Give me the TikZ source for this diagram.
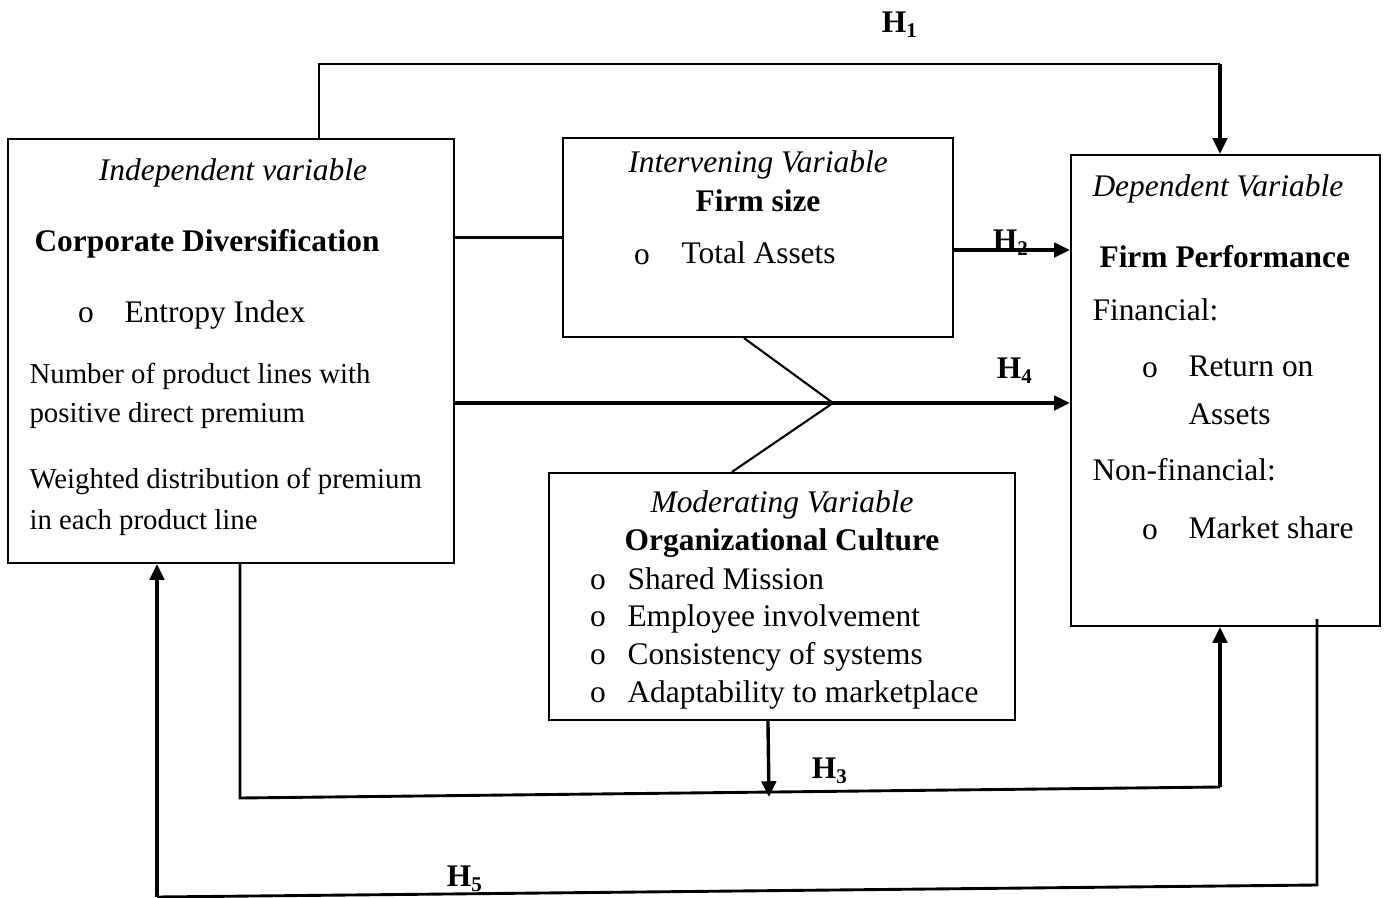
\documentclass[tikz,border=0pt]{standalone}
\usepackage{fontspec}
\setmainfont{Liberation Serif}
\usetikzlibrary{arrows.meta,positioning,fit,calc}

\begin{document}
\begin{tikzpicture}[
  x=0.01341cm, y=-0.01341cm,
  >={Triangle[length=6pt,width=5.5pt]},
  txt/.style={inner sep=0pt, text height=1.5ex, text depth=0.25ex, yshift=-0.04cm,
    font=\fontsize{12pt}{14pt}\selectfont},
  hd/.style={txt, font=\fontsize{12pt}{14pt}\selectfont\itshape},
  ttl/.style={txt, font=\fontsize{12pt}{14pt}\selectfont\bfseries},
  sml/.style={txt, font=\fontsize{11pt}{13pt}\selectfont},
  hyp/.style={txt, font=\fontsize{12pt}{14pt}\selectfont\bfseries},
  varbox/.style={draw, line width=0.8pt, inner sep=0pt},
  link/.style={line width=0.8pt},
  arr/.style={->, line width=1.3pt},
]
\useasboundingbox (0,0) rectangle (1388,898);

% Boxes
\node[varbox, fit={(8,139) (454,563)}] (indep) {};
\node[varbox, fit={(563,138) (953,337)}] (interv) {};
\node[varbox, fit={(1071,155) (1380,626)}] (dep) {};
\node[varbox, fit={(549,473) (1015,720)}] (moder) {};

% Independent variable
\node[hd] (indephd) at (233,170) {Independent variable};
\node[ttl] (indepttl) at (207,241) {Corporate Diversification};
\node[txt] (entb) at (86,312) {o};
\node[txt, anchor=west] (ent) at (124,312) {Entropy Index};
\node[sml, anchor=west] (num1) at (29,373) {Number of product lines with};
\node[sml, anchor=west] (num2) at (29,412) {positive direct premium};
\node[sml, anchor=west] (wtd1) at (29,478) {Weighted distribution of premium};
\node[sml, anchor=west] (wtd2) at (29,519) {in each product line};

% Intervening variable
\node[hd] (intervhd) at (758,162) {Intervening Variable};
\node[ttl] (intervttl) at (758,201) {Firm size};
\node[txt] (totb) at (642,254) {o};
\node[txt, anchor=west] (tot) at (681,253) {Total Assets};

% Dependent variable
\node[hd, anchor=west] (dephd) at (1092,186) {Dependent Variable};
\node[ttl, anchor=west] (depttl) at (1099,257) {Firm Performance};
\node[txt, anchor=west] (fin) at (1092,310) {Financial:};
\node[txt] (roab) at (1150,367) {o};
\node[txt, anchor=west] (roa1) at (1188,366) {Return on};
\node[txt, anchor=west] (roa2) at (1188,414) {Assets};
\node[txt, anchor=west] (nonfin) at (1092,470) {Non-financial:};
\node[txt] (mktb) at (1150,529) {o};
\node[txt, anchor=west] (mkt) at (1188,528) {Market share};

% Moderating variable
\node[hd] (moderhd) at (782,502) {Moderating Variable};
\node[ttl] (moderttl) at (782,540) {Organizational Culture};
\foreach \y/\t [count=\i] in {579/Shared Mission, 616/Employee involvement,
    654/Consistency of systems, 692/Adaptability to marketplace} {
  \node[txt] (ocb\i) at (598,\y) {o};
  \node[txt, anchor=west] (oc\i) at (627,\y) {\t};
}

% Bend points
\coordinate (h1a) at (319,64);
\coordinate (h1b) at (1220,64);
\coordinate (h2s) at (953,250);
\coordinate (vtip) at (833,403);
\coordinate (va) at ($(interv.south west)+(182,0)$);
\coordinate (vb) at ($(moder.north west)+(184,0)$);
\coordinate (h3m) at ($(moder.south west)+(220,0)$);
\coordinate (h3d) at (769,797);
\coordinate (h3l) at (240,798);
\coordinate (h3r) at (1220,787);
\coordinate (h5s) at (1317,619);
\coordinate (h5r) at (1317,885);
\coordinate (h5l) at (157,897);

% H1
\draw[link] (indep.north -| h1a) -- (h1a) -- (h1b);
\draw[arr] (h1b) -- (h1b |- dep.north);
\node[hyp] (h1lbl) at (900,22) {H\textsubscript{1}};

% H2
\draw[link] (indep.east |- interv.west) -- (interv.west);
\draw[arr] (h2s) -- (h2s -| dep.west);
\node[hyp] (h2lbl) at (1011,240) {H\textsubscript{2}};

% H4 with moderation
\draw[arr] (indep.east |- vtip) -- (vtip -| dep.west);
\draw[link] (va) -- (vtip) -- (vb);
\node[hyp] (h4lbl) at (1015,368) {H\textsubscript{4}};

% H3
\draw[arr] (h3m) -- (h3d);
\draw[link, line width=1.1pt] (indep.south -| h3l) -- (h3l) -- (h3r);
\draw[arr] (h3r) -- (h3r |- dep.south);
\node[hyp] (h3lbl) at (830,768) {H\textsubscript{3}};

% H5
\draw[link, line width=1.1pt] (h5s) -- (h5r) -- (h5l);
\draw[arr] (h5l) -- (h5l |- indep.south);
\node[hyp] (h5lbl) at (465,876) {H\textsubscript{5}};
\end{tikzpicture}
\end{document}
